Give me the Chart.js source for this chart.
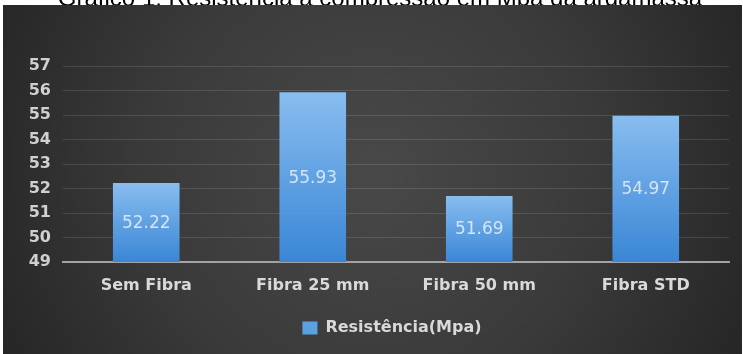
<!DOCTYPE html>
<html lang="pt">
<head>
<meta charset="utf-8">
<title>Resistência à compressão</title>
<script src="https://cdn.jsdelivr.net/npm/chart.js@4.4.1/dist/chart.umd.min.js"></script>
<style>
  html, body { margin: 0; padding: 0; background: #ffffff; }
  #wrap { width: 743px; height: 354px; position: relative; }
  canvas { display: block; }
</style>
</head>
<body>
<div id="wrap"><canvas id="grafico" width="743" height="354"></canvas></div>
<script>
// Dados do gráfico
const chartTitle = 'Gráfico 1: Resistência à compressão em Mpa da argamassa';
const categories = ['Sem Fibra', 'Fibra 25 mm', 'Fibra 50 mm', 'Fibra STD'];
const seriesLabel = 'Resistência(Mpa)';
const resistencia = [52.22, 55.93, 51.69, 54.97];
const yTickValues = [49, 50, 51, 52, 53, 54, 55, 56, 57];

const FONT = '"DejaVu Sans", "Noto Sans", sans-serif';

// Fundo branco, título e painel escuro com degradê radial
const backdrop = {
  id: 'backdrop',
  beforeDraw(chart) {
    const c = chart.ctx;
    const W = chart.width, H = chart.height;
    c.save();
    c.fillStyle = '#ffffff';
    c.fillRect(0, 0, W, H);
    c.fillStyle = '#000000';
    c.font = '24px "Liberation Sans", Arial, sans-serif';
    c.textAlign = 'center';
    c.textBaseline = 'alphabetic';
    c.fillText(chartTitle, 380, 6);
    const g = c.createRadialGradient(372, 170, 10, 372, 170, 440);
    g.addColorStop(0, '#484848');
    g.addColorStop(0.5, '#3a3a3a');
    g.addColorStop(1, '#232323');
    c.fillStyle = g;
    c.fillRect(3, 5, 739, H - 5);
    c.restore();
  }
};

// Rótulos de valor no centro de cada barra
const valueLabels = {
  id: 'valueLabels',
  afterDraw(chart) {
    const c = chart.ctx;
    const yScale = chart.scales.y;
    const xScale = chart.scales.x;
    const data = chart.data.datasets[0].data;
    const basePx = yScale.getPixelForValue(yScale.min);
    c.save();
    c.font = '17px ' + FONT;
    c.fillStyle = '#d3e4f5';
    c.textAlign = 'center';
    c.textBaseline = 'middle';
    data.forEach((v, i) => {
      const x = xScale.getPixelForValue(i);
      const top = yScale.getPixelForValue(v);
      c.fillText(v.toFixed(2), x, (top + basePx) / 2 + 1);
    });
    c.restore();
  }
};

// Desloca a legenda para a direita
const legendShift = {
  id: 'legendShift',
  afterLayout(chart) {
    const lg = chart.legend;
    if (!lg) return;
    const d = 392 - (lg.left + lg.right) / 2;
    lg.left += d;
    lg.right += d;
  }
};

function barGradient(ctx) {
  const chart = ctx.chart;
  const area = chart.chartArea;
  if (!area || ctx.type !== 'data') return '#5b9fe3';
  const top = chart.scales.y.getPixelForValue(ctx.raw);
  const g = chart.ctx.createLinearGradient(0, top, 0, area.bottom);
  g.addColorStop(0, '#88bdef');
  g.addColorStop(1, '#3a86d6');
  return g;
}

new Chart(document.getElementById('grafico'), {
  type: 'bar',
  data: {
    labels: categories,
    datasets: [{
      label: seriesLabel,
      data: resistencia,
      backgroundColor: barGradient,
      borderWidth: 0,
      categoryPercentage: 1,
      barPercentage: 0.4
    }]
  },
  options: {
    responsive: false,
    devicePixelRatio: 1,
    animation: false,
    layout: { padding: { left: 0, right: 14, top: 66, bottom: 8 } },
    plugins: {
      title: { display: false },
      tooltip: { enabled: false },
      legend: {
        display: true,
        position: 'bottom',
        labels: {
          boxWidth: 15,
          boxHeight: 13,
          padding: 10,
          color: '#d9d9d9',
          font: { family: FONT, size: 16, weight: 'bold' },
          generateLabels(chart) {
            return Chart.defaults.plugins.legend.labels.generateLabels(chart).map(item => {
              item.fillStyle = '#5ca0e4';
              item.strokeStyle = 'rgba(0,0,0,0)';
              item.lineWidth = 0;
              return item;
            });
          }
        }
      }
    },
    scales: {
      x: {
        grid: { display: false, drawTicks: false },
        border: { display: true, color: '#a3a3a3', width: 2 },
        ticks: {
          color: '#d9d9d9',
          padding: 14,
          font: { family: FONT, size: 16, weight: 'bold' }
        },
        afterFit(scale) { scale.height = 48; }
      },
      y: {
        min: yTickValues[0],
        max: yTickValues[yTickValues.length - 1],
        afterBuildTicks(scale) { scale.ticks = yTickValues.map(v => ({ value: v })); },
        grid: {
          drawTicks: false,
          color: (ctx) => ctx.tick && ctx.tick.value === yTickValues[0] ? 'rgba(0,0,0,0)' : 'rgba(255,255,255,0.12)',
          lineWidth: 1
        },
        border: { display: false },
        ticks: {
          color: '#d0d0d0',
          padding: 12,
          font: { family: FONT, size: 16, weight: 'bold' }
        },
        afterFit(scale) { scale.width = 63; }
      }
    }
  },
  plugins: [backdrop, valueLabels, legendShift]
});
</script>
</body>
</html>
